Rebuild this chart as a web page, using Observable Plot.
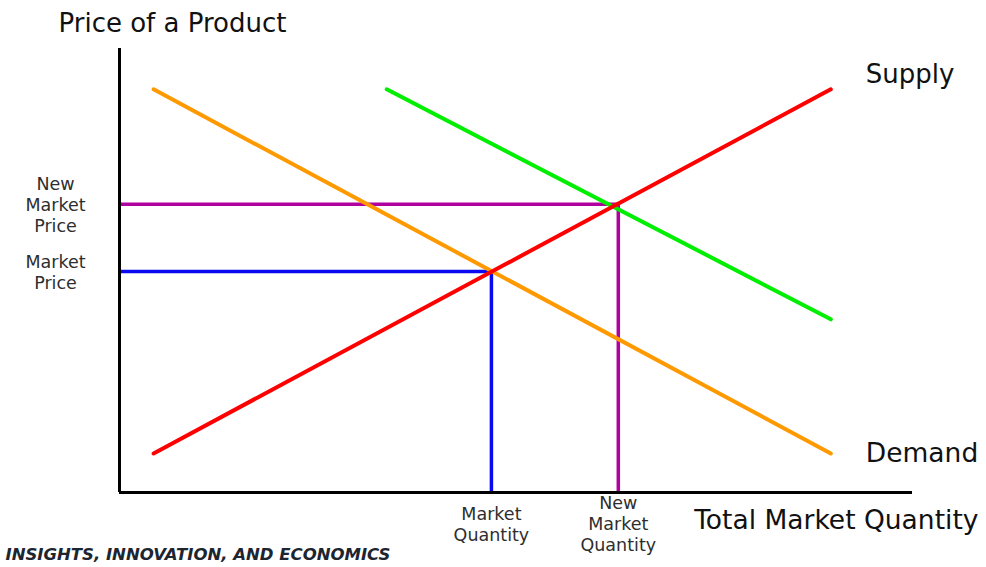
<!DOCTYPE html>
<html>
<head>
<meta charset="utf-8">
<script src="https://cdn.jsdelivr.net/npm/d3@7"></script>
<script src="https://cdn.jsdelivr.net/npm/@observablehq/plot@0.6"></script>
<style>
  html, body { margin: 0; padding: 0; background: #fff; }
  #chart svg { display: block; }
</style>
</head>
<body>
<div id="chart"></div>
<script>
// Quantity (x) and price (y) in abstract units 0–100
const demand = [{q: 4.3, p: 90.8}, {q: 89.7, p: 8.8}];
const supply = [{q: 4.3, p: 8.8}, {q: 89.7, p: 90.8}];
const newDemand = [{q: 33.7, p: 90.8}, {q: 89.7, p: 39.0}];

const marketQ = 46.9, marketP = 49.8;
const newQ = 62.9, newP = 64.9;

const quantityTicks = [marketQ, newQ];
const quantityLabels = ["Market\nQuantity", "New\nMarket\nQuantity"];
const priceTicks = [marketP, newP];
const priceLabels = ["Market\nPrice", "New\nMarket\nPrice"];

const marketGuide = [{q: 0, p: marketP}, {q: marketQ, p: marketP}, {q: marketQ, p: 0}];
const newGuide = [{q: 0, p: newP}, {q: newQ, p: newP}, {q: newQ, p: 0}];

const font = "'DejaVu Sans', sans-serif";

const chart = Plot.plot({
  width: 986,
  height: 567,
  marginLeft: 119,
  marginRight: 74,
  marginTop: 48,
  marginBottom: 75,
  x: {domain: [0, 100], axis: null},
  y: {domain: [0, 100], axis: null},
  style: {fontFamily: font, color: "#2e2e2e", background: "#fff"},
  marks: [
    Plot.line(marketGuide, {x: "q", y: "p", stroke: "#0a0af0", strokeWidth: 3.5, strokeLinejoin: "miter", strokeLinecap: "butt"}),
    Plot.line(newGuide, {x: "q", y: "p", stroke: "#b0009e", strokeWidth: 3.5, strokeLinejoin: "miter", strokeLinecap: "butt"}),
    Plot.line(demand, {x: "q", y: "p", stroke: "#ff9900", strokeWidth: 4}),
    Plot.line(newDemand, {x: "q", y: "p", stroke: "#00ee00", strokeWidth: 4}),
    Plot.line(supply, {x: "q", y: "p", stroke: "#ff0000", strokeWidth: 4}),
    Plot.ruleX([0], {stroke: "#000", strokeWidth: 3}),
    Plot.ruleY([0], {stroke: "#000", strokeWidth: 3}),
    Plot.axisX({
      ticks: quantityTicks,
      tickFormat: d => quantityLabels[quantityTicks.indexOf(d)],
      label: null,
      tickSize: 0,
      tickPadding: 31,
      lineAnchor: "middle",
      lineHeight: 1.2,
      fontSize: 17.5,
      fill: "#2e2e2e"
    }),
    Plot.axisY({
      ticks: priceTicks,
      tickFormat: d => priceLabels[priceTicks.indexOf(d)],
      label: null,
      tickSize: 0,
      tickPadding: 64,
      textAnchor: "middle",
      lineHeight: 1.2,
      fontSize: 17.5,
      fill: "#2e2e2e"
    }),
    Plot.text(supply.slice(-1), {x: "q", y: "p", text: () => "Supply", textAnchor: "start", dx: 35, dy: -15, fontSize: 26, fill: "#111"}),
    Plot.text(demand.slice(-1), {x: "q", y: "p", text: () => "Demand", textAnchor: "start", dx: 35, dy: 0, fontSize: 26.5, fill: "#111"}),
    Plot.text(["Price of a Product"], {frameAnchor: "top-left", textAnchor: "start", dx: -61, dy: -35, fontSize: 26, fill: "#111"}),
    Plot.text(["Total Market Quantity"], {frameAnchor: "bottom-right", textAnchor: "end", dx: 66, dy: 36, fontSize: 26.5, fill: "#111"}),
    Plot.text(["INSIGHTS, INNOVATION, AND ECONOMICS"], {frameAnchor: "bottom-left", textAnchor: "start", dx: -114, dy: 67, fontSize: 16.5, fontWeight: "bold", fontStyle: "italic", fill: "#1c2530"})
  ]
});
document.getElementById("chart").appendChild(chart);
</script>
</body>
</html>
